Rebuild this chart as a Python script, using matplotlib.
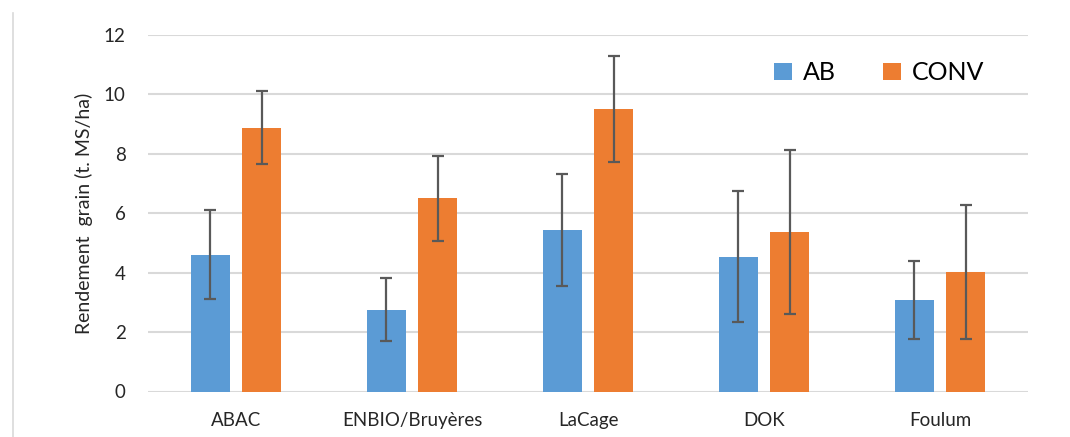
import numpy as np
import matplotlib.pyplot as plt
from matplotlib.lines import Line2D

# Data
sites = ['ABAC', 'ENBIO/Bruyères', 'LaCage', 'DOK', 'Foulum']
ab_mean = [4.61, 2.76, 5.43, 4.54, 3.08]
ab_err = [1.50, 1.06, 1.88, 2.20, 1.31]
conv_mean = [8.88, 6.51, 9.52, 5.37, 4.03]
conv_err = [1.22, 1.43, 1.78, 2.76, 2.26]

plt.rcParams['font.family'] = ['Lato', 'DejaVu Sans']

fig = plt.figure(figsize=(10.7, 4.37), dpi=100)
ax = fig.add_axes([148 / 1070, 45.5 / 437, 880 / 1070, 356.5 / 437])

x = np.arange(len(sites))
w = 0.227
err_kw = dict(ecolor='#595959', elinewidth=1.6, capsize=4.3, capthick=1.6)
ax.bar(x - 0.145, ab_mean, w, yerr=ab_err, color='#5B9BD5', label='AB',
       error_kw=err_kw, zorder=2)
ax.bar(x + 0.145, conv_mean, w, yerr=conv_err, color='#ED7D31', label='CONV',
       error_kw=err_kw, zorder=2)

ax.set_xlim(-0.5, len(sites) - 0.5)
ax.set_ylim(0, 12)
ax.set_yticks(range(0, 13, 2))
ax.set_xticks(x)
ax.set_xticklabels(sites)
ax.tick_params(length=0, labelsize=13.5, colors='#262626')
ax.tick_params(axis='x', pad=15)
ax.tick_params(axis='y', pad=16)
ax.yaxis.grid(True, color='#d9d9d9', linewidth=1.5, zorder=0)
ax.set_axisbelow(True)
for s in ax.spines.values():
    s.set_visible(False)

ax.set_ylabel('Rendement  grain (t. MS/ha)', fontsize=14, color='#262626', labelpad=8)

ax.legend(loc='upper right', bbox_to_anchor=(0.976, 0.99), ncol=2, frameon=False,
          fontsize=18, handlelength=0.7, handleheight=0.7, columnspacing=1.9,
          handletextpad=0.45)

# thin frame line at left of the chart area
fig.add_artist(Line2D([13 / 1070, 13 / 1070], [0, 1 - 13 / 437],
                      color='#d9d9d9', linewidth=1.2, transform=fig.transFigure))

fig.savefig('out.png', dpi=100)
